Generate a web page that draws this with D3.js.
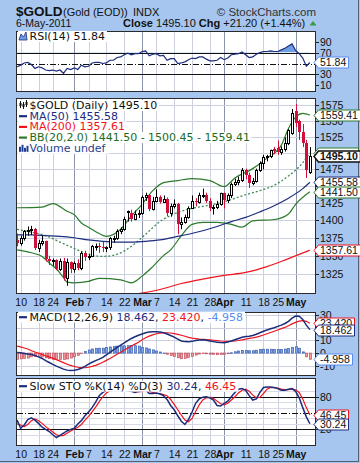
<!DOCTYPE html>
<html><head><meta charset="utf-8">
<script src="https://cdn.jsdelivr.net/npm/d3@7"></script>
<style>html,body{margin:0;padding:0;background:#a6c6ef;}svg{display:block}</style>
</head><body>
<svg id="c" width="360" height="463"></svg>
<script>
// ---------------- DATA ----------------
const dates = ["01-07","01-10","01-11","01-12","01-13","01-14","01-18","01-19","01-20","01-21","01-24","01-25","01-26","01-27","01-28","01-31",
"02-01","02-02","02-03","02-04","02-07","02-08","02-09","02-10","02-11","02-14","02-15","02-16","02-17","02-18","02-22","02-23","02-24","02-25","02-28",
"03-01","03-02","03-03","03-04","03-07","03-08","03-09","03-10","03-11","03-14","03-15","03-16","03-17","03-18","03-21","03-22","03-23","03-24","03-25","03-28","03-29","03-30","03-31",
"04-01","04-04","04-05","04-06","04-07","04-08","04-11","04-12","04-13","04-14","04-15","04-18","04-19","04-20","04-21","04-25","04-26","04-27","04-28","04-29",
"05-02","05-03","05-04","05-05","05-06"];
const open = [1372,1368,1375,1384,1386,1387,1361,1368,1370,1345,1342,1344,1332,1343,1319,1341,
1332,1340,1333,1354,1348,1349,1363,1364,1362,1360,1362,1374,1375,1385,1388,1413,1411,1402,1409,
1411,1433,1437,1416,1428,1434,1427,1431,1411,1421,1424,1395,1397,1404,1418,1428,1427,1437,1437,1428,1418,1419,1424,
1439,1429,1437,1453,1456,1459,1474,1467,1455,1457,1474,1485,1493,1495,1506,1508,1501,1506,1516,1531,
1566,1550,1533,1516,1471];
const high = [1381,1378,1386,1391,1392,1389,1372,1378,1371,1350,1346,1345,1346,1347,1346,1342,
1342,1345,1356,1357,1352,1365,1367,1368,1369,1363,1376,1378,1387,1390,1405,1414,1415,1414,1415,
1436,1440,1438,1434,1445,1436,1436,1433,1424,1430,1425,1404,1408,1420,1436,1432,1440,1446,1440,1432,1422,1428,1440,
1440,1439,1455,1461,1464,1477,1476,1470,1462,1476,1487,1497,1497,1505,1509,1519,1510,1524,1537,1569,
1577,1552,1545,1520,1509];
const low = [1363,1364,1371,1378,1379,1358,1355,1364,1342,1337,1336,1330,1329,1316,1309,1326,
1327,1330,1330,1343,1344,1348,1357,1354,1355,1355,1358,1368,1372,1380,1385,1398,1398,1400,1403,
1408,1428,1413,1414,1426,1424,1426,1406,1405,1417,1380,1387,1395,1402,1418,1420,1424,1432,1425,1413,1408,1416,1421,
1417,1425,1432,1450,1451,1456,1460,1447,1451,1455,1471,1475,1487,1492,1498,1497,1497,1502,1512,1528,
1540,1520,1509,1462,1468];
const close = [1368,1375,1384,1386,1387,1361,1368,1370,1345,1342,1344,1332,1343,1319,1341,1332,
1340,1333,1354,1348,1349,1363,1364,1362,1360,1362,1374,1375,1385,1388,1402,1411,1402,1409,1411,
1433,1437,1416,1428,1434,1427,1431,1411,1421,1424,1395,1397,1404,1418,1428,1427,1437,1437,1428,1418,1419,1424,1439,
1429,1437,1453,1456,1459,1474,1467,1455,1457,1474,1485,1493,1495,1504,1503,1501,1506,1516,1535,1563,
1546,1532,1516,1473.9,1495.1];

const ma50Dates = ["01-07","01-13","01-20","01-26","02-01","02-07","02-11","02-17","02-24","03-02","03-08","03-14","03-18","03-24","03-30","04-05","04-11","04-15","04-21","04-28","05-04","05-06"];
const ma50Vals  = [1379,1379,1378,1377,1375,1372,1370,1369,1369,1370,1372,1376,1380,1385,1391,1398,1404,1412,1421,1432,1446,1455.58];
const ma200Dates = ["02-24","03-08","03-16","03-24","04-01","04-11","04-19","04-28","05-06"];
const ma200Vals  = [1297,1304,1312,1318,1323,1327,1335,1346,1357.61];
const bbUpDates = ["01-07","01-19","01-24","01-28","02-01","02-03","02-07","02-10","02-14","02-18","02-24","03-01","03-04","03-09","03-15","03-21","03-28","04-01","04-06","04-13","04-19","04-26","04-28","05-02","05-04","05-06"];
const bbUpVals  = [1418,1419,1424,1413,1408,1396,1390,1381,1377,1387,1406,1423,1443,1455,1458,1461,1458,1449,1462,1476,1492,1512,1538,1556,1562,1559.41];
const bbMidDates = ma50Dates;
const bbMidVals  = [1387,1383,1378,1369,1360,1352,1349,1352,1363,1380,1398,1409,1416,1420,1424,1430,1437,1443,1451,1465,1485,1500.45];
const bbLoDates = ["01-07","01-13","01-19","01-21","01-25","01-27","01-28","02-01","02-07","02-10","02-18","02-24","03-01","03-04","03-09","03-11","03-16","03-21","03-24","03-30","04-05","04-08","04-13","04-21","04-28","05-02","05-06"];
const bbLoVals  = [1358,1354,1349,1340,1332,1320,1314,1313,1315,1319,1317,1313,1322,1335,1350,1358,1378,1394,1397,1397,1394,1390,1399,1401,1409,1423,1441.5];

const rsi = [44,47,51,52,48,41,44,42,38,37,38,36,38,32,41,39,42,39,47,44,45,51,52,52,50,51,56,56,61,62,66,69,66,68,68,72,73,64,67,68,64,65,56,59,59,50,51,53,57,60,59,62,62,58,55,55,56,61,57,60,66,67,68,71,66,61,62,67,70,72,72,73,72,72,75,78,82,86,74,68,60,45,51.84];
const macd = [0.5,0.2,-0.3,-0.8,-1.2,-2.0,-3.0,-4.3,-6.0,-7.5,-9.0,-10.3,-11.5,-12.7,-13.5,-13.8,-13.5,-13.0,-12.0,-10.5,-8.8,-7.3,-6.0,-4.8,-3.5,-1.5,0.5,2.5,4.5,6.3,8.0,9.8,11.5,12.8,14.0,15.0,16.0,16.5,16.8,16.8,16.5,16.0,15.0,13.8,12.5,11.0,9.5,9.0,8.8,9.2,9.8,10.2,10.5,10.0,9.5,9.0,8.5,8.3,8.2,8.7,9.5,10.5,11.5,12.5,13.0,13.3,13.8,14.8,16.0,17.2,18.2,19.2,20.0,21.0,22.0,23.3,25.0,27.5,29.2,29.0,26.5,22.0,18.462];
const signal = [5.5,4.8,4.0,3.2,1.8,0.8,-0.2,-1.2,-2.2,-3.0,-4.0,-5.2,-6.4,-7.6,-8.8,-9.8,-10.6,-11.2,-11.6,-11.6,-11.2,-10.5,-9.7,-8.6,-7.3,-5.8,-4.3,-2.7,-1.0,0.6,2.3,4.0,5.5,7.0,8.5,10.5,12.0,13.3,14.3,15.2,15.7,16.0,16.0,15.8,15.3,14.7,14.0,13.2,12.4,11.8,11.4,11.0,10.8,10.6,10.4,10.1,9.8,9.5,9.3,9.2,9.3,9.5,9.9,10.4,11.0,11.5,12.0,12.6,13.3,14.2,15.2,16.2,17.2,18.2,19.2,20.2,21.5,23.0,24.2,25.2,25.6,25.0,23.42];
const hist = [-5.0,-4.6,-4.3,-4.0,-3.0,-2.8,-2.8,-3.1,-3.8,-4.5,-5.0,-5.1,-5.1,-5.1,-4.7,-4.0,-2.9,-1.8,-0.4,1.1,2.4,3.2,3.7,3.8,3.8,4.3,4.8,5.2,5.5,5.7,5.7,5.8,6.0,5.8,5.5,4.5,4.0,3.2,2.5,1.6,0.8,0.0,-1.0,-2.0,-2.8,-3.7,-4.5,-4.2,-3.6,-2.6,-1.6,-0.8,-0.3,-0.6,-0.9,-1.1,-1.3,-1.2,-1.1,-0.5,0.2,1.0,1.6,2.1,2.0,1.8,1.8,2.2,2.7,3.0,3.0,3.0,2.8,2.8,2.8,3.1,3.5,4.5,5.0,3.8,0.9,-3.0,-4.958];
const stoK = [37,22,28,38,41,37,31,24,20,16,10,5,9,13,17,20,22,30,36,45,52,60,70,82,88,92,92,92,92,93,93,91,90,88,90,92,93,86,86,87,85,82,75,64,56,45,35,29,38,52,68,76,79,80,78,74,64,63,68,72,80,88,94,95,92,82,74,76,88,97,98,98,97,95,92,92,94,95,90,78,60,43,30.24];
const stoD = [30,28,25,29,36,39,36,31,25,20,15,10,8,9,13,17,20,24,29,37,44,52,61,71,80,87,91,92,92,92,93,92,91,90,89,90,92,90,88,86,86,84,82,75,66,56,46,37,34,40,53,65,74,78,79,77,72,67,65,68,74,80,87,92,94,90,83,78,79,86,94,97,97,96,94,93,93,94,93,88,76,60,46.45];

const tickDates  = ["01-10","01-18","01-24","02-01","02-07","02-14","02-22","03-01","03-07","03-14","03-21","03-28","04-01","04-11","04-18","04-25","05-02"];
const tickLabels = ["10","18","24","Feb","7","14","22","Mar","7","14","21","28","Apr","11","18","25","May"];
const priceTicks = [1325,1350,1375,1400,1425,1450,1475,1500,1525,1550,1575];
const priceTickLabels = [1325,1350,1375,1400,1425,1475,1525,1550,1575];   // 1450 and 1500 sit fully under value tags
const rsiTicks = [10,30,70,90];
const macdTicks = [-10,0,10,20,30];
const macdTickLabels = [-10,0,10,30];                                      // 20 sits under the 23.420 tag
const stoTicks = [20,80];

// ---------------- LAYOUT ----------------
const svg = d3.select("#c");
const X0 = 17, X1 = 316;
const SANS = "'Liberation Sans', Arial, sans-serif";
const VER = "'DejaVu Sans', Verdana, sans-serif";
const C = {navy:"#1c2d7d", red:"#f0141e", green:"#2c7a2c", gtext:"#1d6b1d", lblue:"#5b8def", grid:"#cdd0de", mgrid:"#8c93a8", cand:"#d0103a"};
const P = {rsi:[31,92], main:[98,294], macd:[312,376], sto:[378,446]};

const idx = new Map(dates.map((d,i)=>[d,i]));
const x = d3.scaleLinear().domain([0, dates.length-1]).range([17.1, 309.9]);
const xd = d => x(idx.get(d));
const sx = d => Math.round(xd(d));

const yP = d3.scaleLog().domain([1298, 1586.8]).range([294, 98]);
const yR = d3.scaleLinear().domain([0,100]).range([90.75, 36.25]);
const yM = d3.scaleLinear().domain([-10,30]).range([365.7, 315]);
const yS = d3.scaleLinear().domain([0,100]).range([440.2, 385.9]);

svg.append("rect").attr("width",360).attr("height",463).attr("fill","#a6c6ef");
svg.append("line").attr("x1",358.5).attr("x2",358.5).attr("y1",0).attr("y2",462).attr("stroke","#50607a");
svg.append("line").attr("x1",0).attr("x2",359).attr("y1",461.5).attr("y2",461.5).attr("stroke","#50607a");

// header
svg.append("text").attr("x",16).attr("y",16).text("$GOLD").style("font",`bold 13.5px ${SANS}`).attr("fill","#111");
svg.append("text").attr("x",63).attr("y",15.5).text("(Gold (EOD))").style("font",`11px ${SANS}`).attr("fill","#111");
svg.append("text").attr("x",133).attr("y",15.5).text("INDX").style("font",`11px ${SANS}`).attr("fill","#111");
svg.append("text").attr("x",316).attr("y",15.5).attr("text-anchor","end").text("\u00A9 StockCharts.com").style("font",`11.5px ${SANS}`).attr("fill","#333");
svg.append("text").attr("x",16).attr("y",27).text("6-May-2011").style("font",`10.5px ${SANS}`).attr("fill","#111");
const hdr = svg.append("text").attr("x",123).attr("y",27).style("font",`11px ${SANS}`).attr("fill","#111");
hdr.append("tspan").style("font-weight","bold").text("Close");
hdr.append("tspan").text(" 1495.10  ");
hdr.append("tspan").style("font-weight","bold").text("Chg");
hdr.append("tspan").text(" +21.20 (+1.44%)");
svg.append("path").attr("d","M309.5,25.5 L316.5,25.5 L313,21 Z").attr("fill","#3c9a3c");

// panels
function panel(name){
  const [a,b] = P[name];
  svg.append("rect").attr("x",X0-0.5).attr("y",a+0.5).attr("width",X1-X0).attr("height",b-a-1)
    .attr("fill","#fff").attr("stroke","#2a2a2a");
  svg.append("clipPath").attr("id","clip-"+name).append("rect").attr("x",X0).attr("y",a+1).attr("width",X1-X0-1).attr("height",b-a-2);
  const g = svg.append("g").attr("clip-path",`url(#clip-${name})`);
  tickDates.forEach((d,i)=>{
    const isM = /[A-Za-z]/.test(tickLabels[i]);
    g.append("line").attr("x1",sx(d)+0.5).attr("x2",sx(d)+0.5).attr("y1",a).attr("y2",b)
      .attr("stroke", isM ? C.mgrid : C.grid).attr("stroke-width",1);
  });
  return g;
}
function hgrid(g, ys, col){
  ys.forEach(v=>{ const yy=Math.round(v)+0.5; g.append("line").attr("x1",X0).attr("x2",X1).attr("y1",yy).attr("y2",yy).attr("stroke",col||C.grid); });
}
function yTicks(vals, sc, labels){
  vals.forEach(v=>{
    const yy = Math.round(sc(v))+0.5;
    svg.append("line").attr("x1",X1).attr("x2",X1+3).attr("y1",yy).attr("y2",yy).attr("stroke","#222");
    if(!labels || labels.includes(v))
      svg.append("text").attr("x",X1+4).attr("y",yy+3.8).text(v).style("font",`10.5px ${SANS}`).attr("fill","#111");
  });
}
function tag(v, sc, txt, col, bold){
  const yy = Math.round(sc(v))+0.5;
  const g = svg.append("g");
  const t = g.append("text").attr("x",320).attr("y",yy+3.8).text(txt)
    .style("font",`${bold?"bold ":""}10.5px ${SANS}`).attr("fill","#111");
  const w = t.node().getComputedTextLength();
  g.insert("path","text").attr("d",`M314,${yy} L318.5,${yy-5.5} H${Math.round(320+w+2)+0.5} V${yy+5.5} H318.5 Z`)
    .attr("fill","#fff").attr("stroke",col).attr("stroke-width",bold?1.5:1);
}
function tagBox(v, sc, col, w){   // tag whose text is fully covered in the reference: only its frame peeks out
  const yy = Math.round(sc(v))+0.5;
  svg.append("path").attr("d",`M314,${yy} L318.5,${yy-5.5} H${320+w}.5 V${yy+5.5} H318.5 Z`).attr("fill","#fff").attr("stroke",col);
}
function xLabels(yb){
  tickDates.forEach((d,i)=>{
    const isM = /[A-Za-z]/.test(tickLabels[i]);
    svg.append("text").attr("x",xd(d)+0.5).attr("y",yb).attr("text-anchor","middle").text(tickLabels[i])
      .style("font",`${isM?"bold ":""}10.5px ${SANS}`).attr("fill","#111");
  });
}
function legend(yb, parts, icon){
  const g = svg.append("g");
  const t = g.append("text").attr("x",29.5).attr("y",yb).style("font",`11px ${VER}`);
  parts.forEach(p=>t.append("tspan").attr("fill",p[1]).text(p[0]));
  const bb = t.node().getBBox();
  g.insert("rect","text").attr("x",18).attr("y",yb-9).attr("width",bb.x+bb.width-18+2).attr("height",11).attr("fill","#fff");
  if(icon) icon(g, yb);
  return g;
}
const dash = col => (g,yb)=>g.append("line").attr("x1",19).attr("x2",27).attr("y1",yb-3.5).attr("y2",yb-3.5).attr("stroke",col).attr("stroke-width",2.2);

// ---------- RSI ----------
{
  const g = panel("rsi");
  const line = d3.line().x((d,i)=>x(i)).y(d=>yR(d));
  const area = d3.area().x((d,i)=>x(i)).y0(yR(70)).y1(d=>yR(d));
  svg.append("clipPath").attr("id","rsiHi").append("rect").attr("x",X0).attr("y",P.rsi[0]).attr("width",X1-X0).attr("height",yR(70)-P.rsi[0]);
  svg.append("clipPath").attr("id","rsiLo").append("rect").attr("x",X0).attr("y",yR(30)).attr("width",X1-X0).attr("height",P.rsi[1]-yR(30));
  g.append("g").attr("clip-path","url(#rsiHi)").append("path").attr("d",area(rsi)).attr("fill","#6f9de3");
  g.append("g").attr("clip-path","url(#rsiLo)").append("path").attr("d",d3.area().x((d,i)=>x(i)).y0(yR(30)).y1(d=>yR(d))(rsi)).attr("fill","#6f9de3");
  [70,30].forEach(v=>{const yy=Math.round(yR(v))+0.5; g.append("line").attr("x1",X0).attr("x2",X1).attr("y1",yy).attr("y2",yy).attr("stroke","#111");});
  const y50=Math.round(yR(50))+0.5;
  g.append("line").attr("x1",X0).attr("x2",X1).attr("y1",y50).attr("y2",y50).attr("stroke","#111").attr("stroke-dasharray","6,2,1,2");
  g.append("path").attr("d",line(rsi)).attr("fill","none").attr("stroke",C.navy).attr("stroke-width",1.2);
  yTicks(rsiTicks, yR);
  legend(40, [["RSI(14) 51.84","#111"]], (gg,yb)=>{
    gg.append("path").attr("d",`M19,${yb} L21,${yb-6} L23.5,${yb-3} L26,${yb-8} L27,${yb} Z`).attr("fill","#6f9de3").attr("stroke",C.navy).attr("stroke-width",0.8);
  });
  tag(51.84, yR, "51.84", C.lblue);
}

// ---------- MAIN ----------
{
  const g = panel("main");
  hgrid(g, priceTicks.map(v=>yP(v)));
  const sl = (ds,vs,col,w,da)=>{
    const pts = ds.map((d,i)=>[xd(d), yP(vs[i])]);
    const p = g.append("path").attr("d",d3.line().curve(d3.curveMonotoneX)(pts)).attr("fill","none").attr("stroke",col).attr("stroke-width",w);
    if(da) p.attr("stroke-dasharray",da);
  };
  sl(bbUpDates,bbUpVals,C.green,1.2);
  sl(bbLoDates,bbLoVals,C.green,1.2);
  sl(bbMidDates,bbMidVals,"#3d8a55",1.3,"2,2");
  sl(ma200Dates,ma200Vals,C.red,1.2);
  sl(ma50Dates,ma50Vals,C.navy,1.2);
  dates.forEach((d,i)=>{
    const X = sx(d);
    const prev = i>0 ? close[i-1] : open[i];
    const col = close[i] >= prev ? "#000" : C.cand;
    const hollow = close[i] >= open[i];
    g.append("line").attr("x1",X+0.5).attr("x2",X+0.5).attr("y1",yP(high[i])).attr("y2",yP(low[i])).attr("stroke",col).attr("stroke-width",1);
    const yt = Math.round(yP(Math.max(open[i],close[i]))), yb = Math.round(yP(Math.min(open[i],close[i])));
    if(hollow){
      g.append("rect").attr("x",X-0.5).attr("y",yt+0.5).attr("width",2).attr("height",Math.max(yb-yt,1)).attr("fill","#fff").attr("stroke",col);
    } else {
      g.append("rect").attr("x",X-1).attr("y",yt).attr("width",3).attr("height",Math.max(yb-yt,1)).attr("fill",col);
    }
  });
  yTicks(priceTicks, yP, priceTickLabels);
  xLabels(306);
  legend(109, [["$GOLD (Daily) 1495.10","#111"]], (gg,yb)=>{
    [[20,-8,-1,-6,-3],[23,-7,0,-5,-2],[26,-9,-2,-7,-4]].forEach(c=>{
      gg.append("line").attr("x1",c[0]+0.5).attr("x2",c[0]+0.5).attr("y1",yb+c[1]).attr("y2",yb+c[2]).attr("stroke","#111");
      gg.append("rect").attr("x",c[0]-0.5).attr("y",yb+c[3]).attr("width",2).attr("height",c[4]-c[3]).attr("fill","#111");
    });
  });
  legend(119.7, [["MA(50) 1455.58",C.navy]], dash(C.navy));
  legend(130.4, [["MA(200) 1357.61",C.red]], dash(C.red));
  legend(141.1, [["BB(20,2.0) 1441.50 - 1500.45 - 1559.41",C.gtext]], dash(C.green));
  legend(151.8, [["Volume undef","#1f3f8f"]], (gg,yb)=>{
    [[19,5],[21.5,7],[24,4],[26.5,6]].forEach(c=>gg.append("rect").attr("x",c[0]).attr("y",yb-c[1]).attr("width",2).attr("height",c[1]).attr("fill","#1f3f8f"));
  });
  tag(1559.41, yP, "1559.41", C.green);
  tagBox(1500.45, yP, C.green, 38);
  tag(1495.10, yP, "1495.10", "#111", true);
  tag(1455.58, yP, "1455.58", C.navy);
  tag(1441.50, yP, "1441.50", C.green);
  tag(1357.61, yP, "1357.61", C.red);
}

// ---------- MACD ----------
{
  const g = panel("macd");
  hgrid(g, macdTicks.map(v=>yM(v)));
  const y0 = yM(0);
  hist.forEach((v,i)=>{
    const X = Math.round(x(i));
    const yv = yM(v);
    const top = Math.min(yv,y0), h = Math.max(Math.abs(yv-y0),0.5);
    g.append("rect").attr("x",X-0.5).attr("y",top).attr("width",2).attr("height",h)
      .attr("fill", v>=0 ? "#7ea6e8" : "#f29a9a").attr("stroke", v>=0 ? "#3a5fb0" : "#c05060").attr("stroke-width",0.7);
  });
  const line = d3.line().x((d,i)=>x(i)).y(d=>yM(d));
  g.append("path").attr("d",line(signal)).attr("fill","none").attr("stroke",C.red).attr("stroke-width",1.2);
  g.append("path").attr("d",line(macd)).attr("fill","none").attr("stroke",C.navy).attr("stroke-width",1.5);
  yTicks(macdTicks, yM, macdTickLabels);
  legend(320.7, [["MACD(12,26,9) ","#111"],["18.462",C.navy],[", ","#111"],["23.420",C.red],[", ","#111"],["-4.958",C.lblue]], dash(C.navy));
  tag(23.42, yM, "23.420", C.red);
  tag(18.462, yM, "18.462", C.navy);
  tag(-4.958, yM, "-4.958", C.lblue);
}

// ---------- STO ----------
{
  const g = panel("sto");
  hgrid(g, [10,30,40,60,70,90].map(v=>yS(v)), "#d8dbe6");
  [80,20].forEach(v=>{const yy=Math.round(yS(v))+0.5; g.append("line").attr("x1",X0).attr("x2",X1).attr("y1",yy).attr("y2",yy).attr("stroke","#111");});
  const y50=Math.round(yS(50))+0.5;
  g.append("line").attr("x1",X0).attr("x2",X1).attr("y1",y50).attr("y2",y50).attr("stroke","#111").attr("stroke-dasharray","6,2,1,2");
  const line = d3.line().x((d,i)=>x(i)).y(d=>yS(d));
  g.append("path").attr("d",line(stoD)).attr("fill","none").attr("stroke",C.red).attr("stroke-width",1.2);
  g.append("path").attr("d",line(stoK)).attr("fill","none").attr("stroke",C.navy).attr("stroke-width",1.5);
  yTicks(stoTicks, yS);
  xLabels(458);
  legend(389.7, [["Slow STO %K(14) %D(3) ","#111"],["30.24",C.navy],[", ","#111"],["46.45",C.red]], dash(C.navy));
  tag(46.45, yS, "46.45", C.red);
  tag(30.24, yS, "30.24", C.navy);
}
</script>
</body></html>
